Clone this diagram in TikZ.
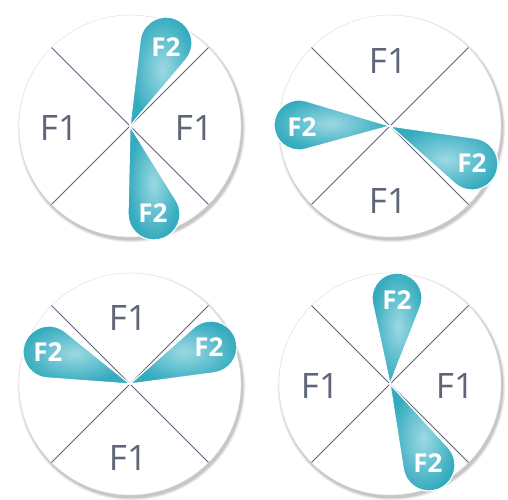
\documentclass[tikz,border=0pt]{standalone}
\usepackage{fontspec}
\setmainfont{Open Sans}
\definecolor{lbl}{HTML}{5F6578}
\definecolor{lineC}{HTML}{5F6478}
\definecolor{tealOut}{HTML}{34ABBE}
\definecolor{tealIn}{HTML}{9BD9E3}
\tikzset{
  fone/.style={text=lbl, font=\fontsize{35}{35}\selectfont, inner sep=0pt},
  ftwo/.style={text=white, font=\fontsize{26}{26}\selectfont\bfseries, inner sep=0pt},
  divider/.style={draw=lineC, line width=1pt},
  lobeshape/.style={inner color=tealIn, outer color=tealOut, draw=white, line width=1.2pt},
}
\newcommand\disc[3]{% cx cy name
  \foreach \k/\o in {1/0.07,2/0.06,3/0.05,4/0.04,5/0.03}{
    \fill[black, opacity=\o] (#1+1.5,#2+2.5) circle[radius=111+0.6*\k];
  }
  \fill[white] (#1,#2) circle[radius=111];
  \draw[black!12, line width=0.4pt] (#1,#2) coordinate (#3) circle[radius=111];
  \foreach \a in {45,135,225,315}{
    \draw[divider] (#3) -- ++(\a:111);
  }
}
\newcommand\lobe[5]{% tipx tipy headx heady r
  \pgfmathsetmacro\la{atan2(-(#4-#2),#3-#1)}
  \pgfmathsetmacro\ll{veclen(#3-#1,#4-#2)}
  \pgfmathsetmacro\lal{asin(#5/\ll)}
  \begin{scope}[shift={(#1,#2)}, rotate=\la]
    \shade[lobeshape] (0,0) -- ({\ll-#5*sin(\lal)},{#5*cos(\lal)})
      arc[start angle=90+\lal, end angle=-90-\lal, radius=#5] -- cycle;
  \end{scope}
}
\begin{document}
\begin{tikzpicture}[x=1pt,y=-1pt]
\useasboundingbox (0,0) rectangle (508,499);
% discs
\disc{130}{126}{cA}
\disc{390}{126}{cB}
\disc{130}{384}{cC}
\disc{390}{384}{cD}
% lobes
\lobe{130}{126}{166}{43}{26}
\lobe{130}{126}{154}{214}{26}
\lobe{390}{126}{299}{125}{25}
\lobe{390}{126}{472}{164}{26}
\lobe{130}{384}{49}{352}{26}
\lobe{130}{384}{211}{347}{26}
\lobe{390}{384}{397}{298}{25}
\lobe{390}{384}{429}{465}{26}
% F1 labels
\node[fone] (a1) at (59,128) {F1};
\node[fone] (a2) at (194,128) {F1};
\node[fone] (b1) at (388,61) {F1};
\node[fone] (b2) at (388,201) {F1};
\node[fone] (c1) at (128,318) {F1};
\node[fone] (c2) at (128,458) {F1};
\node[fone] (d1) at (320,386) {F1};
\node[fone] (d2) at (455,386) {F1};
% F2 labels
\node[ftwo] (e1) at (166,47) {F2};
\node[ftwo] (e2) at (153,213) {F2};
\node[ftwo] (e3) at (302,127) {F2};
\node[ftwo] (e4) at (472,163) {F2};
\node[ftwo] (e5) at (48,352) {F2};
\node[ftwo] (e6) at (209,347) {F2};
\node[ftwo] (e7) at (397,300) {F2};
\node[ftwo] (e8) at (428,463) {F2};
\end{tikzpicture}
\end{document}
